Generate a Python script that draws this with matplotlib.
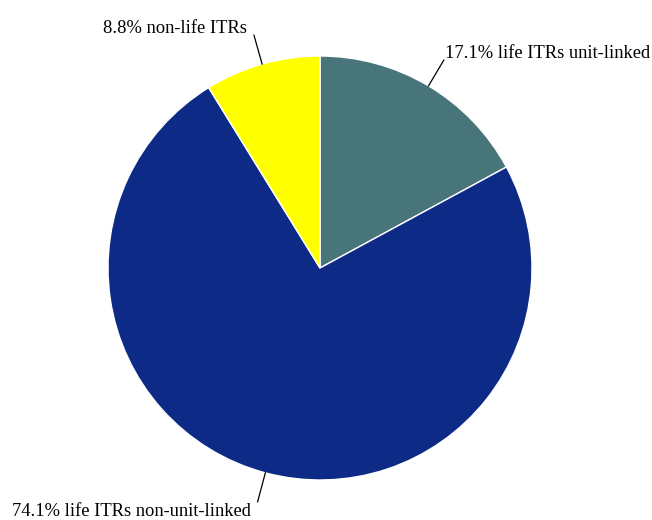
import numpy as np
import matplotlib
matplotlib.use("Agg")
import matplotlib.pyplot as plt

labels = ["life ITRs unit-linked", "life ITRs non-unit-linked", "non-life ITRs"]
shares = [17.1, 74.1, 8.8]
colors = ["#47757a", "#0d2a87", "#ffff00"]

plt.rcParams['font.family'] = ['Liberation Serif', 'DejaVu Serif']

fig = plt.figure(figsize=(6.52, 5.2), dpi=100)
ax = fig.add_axes([0, 0, 1, 1])

R = 212
wedges, _ = ax.pie(shares, colors=colors, startangle=90, counterclock=False,
                   radius=R, wedgeprops=dict(edgecolor='white', linewidth=1))

# pie() resets the limits, so set them afterwards (1 unit = 1 pixel)
ax.set_xlim(-320, 332)
ax.set_ylim(-252, 268)
ax.set_aspect('equal')
ax.axis('off')

for w, lab, s in zip(wedges, labels, shares):
    ang = np.deg2rad((w.theta1 + w.theta2) / 2)
    c, sn = np.cos(ang), np.sin(ang)
    x0, y0 = R * c, R * sn
    x1, y1 = 242 * c, 242 * sn
    ax.plot([x0, x1], [y0, y1], color='black', lw=0.9)
    ha = 'left' if c > 0 else 'right'
    va = 'bottom' if sn > 0 else 'top'
    dx = 1 if c > 0 else -7
    dy = -2 if sn > 0 else -1
    ax.text(x1 + dx, y1 + dy, f"{s}% {lab}", ha=ha, va=va, fontsize=13.3)

fig.savefig("out.png", dpi=100)
